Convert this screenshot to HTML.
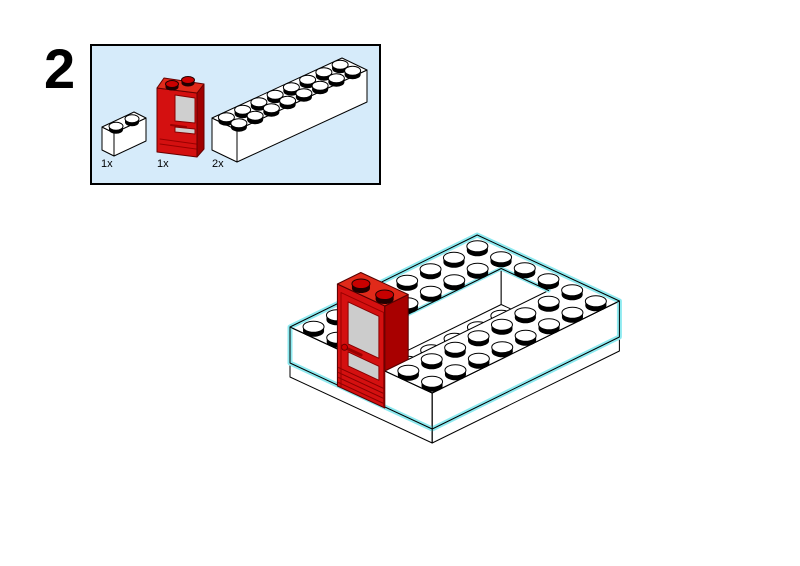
<!DOCTYPE html>
<html><head><meta charset="utf-8"><style>
html,body{margin:0;padding:0;background:#fff;width:800px;height:566px;overflow:hidden}
</style></head><body>
<svg id="s" width="800" height="566" viewBox="0 0 800 566" xmlns="http://www.w3.org/2000/svg">
<text x="44" y="88" font-family="Liberation Sans, sans-serif" font-weight="bold" font-size="56" fill="#000">2</text>
<rect x="91" y="45" width="289" height="139" fill="#d6ebfa" stroke="#000" stroke-width="2"/>
<g font-family="Liberation Sans, sans-serif" font-size="11" fill="#000">
<text x="101" y="167">1x</text><text x="157" y="167">1x</text><text x="212" y="167">2x</text>
</g>
<g id="g"></g>
</svg>
<script>
var NS="http://www.w3.org/2000/svg",G=document.getElementById("g");
function el(t,at){var e=document.createElementNS(NS,t);for(var k in at)e.setAttribute(k,at[k]);G.appendChild(e);return e;}
function pts(a){return a.map(function(p){return p[0].toFixed(1)+","+p[1].toFixed(1)}).join(" ");}
function poly(a,fill,st,sw){return el("polygon",{points:pts(a),fill:fill,stroke:st||"#000","stroke-width":sw||1,"stroke-linejoin":"round"});}
function line(a,st,sw){return el("polyline",{points:pts(a),fill:"none",stroke:st||"#000","stroke-width":sw||1,"stroke-linejoin":"round","stroke-linecap":"round"});}
function stud(c,rx,ry,d,top,side){
  el("ellipse",{cx:c[0],cy:c[1]+d,rx:rx,ry:ry,fill:side||"#000"});
  el("rect",{x:c[0]-rx,y:c[1],width:2*rx,height:d,fill:side||"#000"});
  el("ellipse",{cx:c[0],cy:c[1],rx:rx,ry:ry,fill:top||"#fff",stroke:side||"#000","stroke-width":1});
}
function mk(L,a,b){return function(i,j,h){return [L[0]+a[0]*i+b[0]*j, L[1]+a[1]*i+b[1]*j+(h||0)];};}
function brick(P,ni,nj,H,rx,ry,d){
  poly([P(0,0,0),P(ni,0,0),P(ni,0,H),P(0,0,H)],"#fff");
  poly([P(ni,0,0),P(ni,nj,0),P(ni,nj,H),P(ni,0,H)],"#fff");
  poly([P(0,0,0),P(0,nj,0),P(ni,nj,0),P(ni,0,0)],"#fff");
  var s=[];for(var i=0;i<ni;i++)for(var j=0;j<nj;j++)s.push(P(i+.5,j+.5,0));
  s.sort(function(p,q){return p[1]-q[1]});s.forEach(function(c){stud(c,rx,ry,d)});
}
brick(mk([102,127],[12,6],[16,-7.5]),1,2,23,7,4,3.5);
brick(mk([212,118],[12.5,6],[16.25,-7.5]),2,8,32,8,4.5,4);
poly([[157,88],[197,93],[197,157],[157,152]],"#d41010","#600");
poly([[197,93],[204,84],[204,149],[197,157]],"#a00000","#600");
poly([[157,88],[197,93],[204,84],[164,78]],"#e02a1a","#600");
stud([172,84],6.5,3.5,3,"#c00","#200");stud([188,80],6.5,3.5,3,"#c00","#200");
poly([[175,95],[195,98],[195,123],[175,121]],"#cfcfcf","#800");
poly([[175,127],[195,129],[195,134],[175,132]],"#cfcfcf","#800");
line([[171,125],[186,127]],"#900",2);
line([[160,139],[196,144]],"#900",1);line([[160,144],[196,149]],"#900",1);

var P=mk([290,327],[23.7,11],[23.4,-11.5]);
var CY="#8eeaf0";
poly([P(0,0,0),P(6,0,0),P(6,0,50),P(0,0,50)],"#fff");
poly([P(6,0,0),P(6,8,0),P(6,8,50),P(6,0,50)],"#fff");
poly([P(0,0,0),P(0,8,0),P(6,8,0),P(6,0,0)],"#fff");
var cp=document.createElementNS(NS,"clipPath");cp.id="hc";
var cpp=document.createElementNS(NS,"polygon");cpp.setAttribute("points",pts([P(2,1,0),P(2,7,0),P(4,7,0),P(4,1,0)]));
cp.appendChild(cpp);document.getElementById("s").insertBefore(cp,G);
var HG=G;G=el("g",{"clip-path":"url(#hc)"});
poly([P(2,1,0),P(2,7,0),P(2,7,36),P(2,1,36)],"#fff");
poly([P(2,7,0),P(4,7,0),P(4,7,36),P(2,7,36)],"#fff");
var hs=[];for(var i=2;i<4;i++)for(var j=1;j<7;j++)hs.push(P(i+.5,j+.5,36));
hs.sort(function(p,q){return p[1]-q[1]});hs.forEach(function(c){stud(c,10.5,5.5,4.5)});
G=HG;
poly([P(2,1,0),P(2,7,0),P(4,7,0),P(4,1,0)],"none","#000",1);
line([P(2,1,0),P(2,7,0),P(4,7,0)],CY,4);
line([P(2,1,0),P(2,7,0),P(4,7,0)],"#000",1);
line([P(0,0,36),P(0,0,0),P(0,8,0),P(6,8,0),P(6,8,36),P(6,0,36),P(0,0,36)],CY,5);
line([P(0,0,36),P(0,0,0),P(0,8,0),P(6,8,0),P(6,8,36),P(6,0,36),P(0,0,36)],"#000",1);
line([P(6,0,0),P(6,0,50)],"#000",1);
line([P(6,0,0),P(6,8,0)],"#000",1);line([P(0,0,0),P(6,0,0)],"#000",1);
var back=[],front=[];
for(var i=0;i<2;i++)for(var j=0;j<8;j++)back.push(P(i+.5,j+.5,0));
back.push(P(2.5,7.5,0));back.push(P(3.5,7.5,0));
for(var i=4;i<6;i++)for(var j=0;j<8;j++)front.push(P(i+.5,j+.5,0));
function srt(a){a.sort(function(p,q){return p[1]-q[1]});}
srt(back);back.forEach(function(c){stud(c,10.5,5.5,4.5)});
var DH=-65,DB=37;
poly([P(2,0,DH),P(4,0,DH),P(4,0,DB),P(2,0,DB)],"#d41010","#500");
poly([P(4,0,DH),P(4,1,DH),P(4,1,0),P(4,0,0)],"#a80000","#500");
poly([P(2,0,DH),P(2,1,DH),P(4,1,DH),P(4,0,DH)],"#e02a1a","#500");
stud(P(2.5,0.5,DH),9,4.8,4.5,"#c80000","#200");stud(P(3.5,0.5,DH),9,4.8,4.5,"#c80000","#200");
poly([P(2.45,0,-52),P(3.75,0,-52),P(3.75,0,-10),P(2.45,0,-10)],"#cccccc","#800");
poly([P(2.45,0,-2),P(3.75,0,-2),P(3.75,0,12),P(2.45,0,12)],"#cccccc","#800");
line([P(2.2,0,-5),P(3.0,0,-5)],"#900",3);
el("circle",{cx:P(2.3,0,-5)[0],cy:P(2.3,0,-5)[1],r:3,fill:"#c00",stroke:"#600"});
for(var k=0;k<4;k++)line([P(2.05,0,18+k*5),P(3.95,0,18+k*5)],"#800",1);
line([P(2.15,0,-58),P(2.15,0,DB)],"#900",1);
line([P(3.95,0,-58),P(3.95,0,DB)],"#900",1);
line([P(2.15,0,-58),P(3.95,0,-58)],"#900",1);
srt(front);front.forEach(function(c){stud(c,10.5,5.5,4.5)});
</script>
</body></html>
